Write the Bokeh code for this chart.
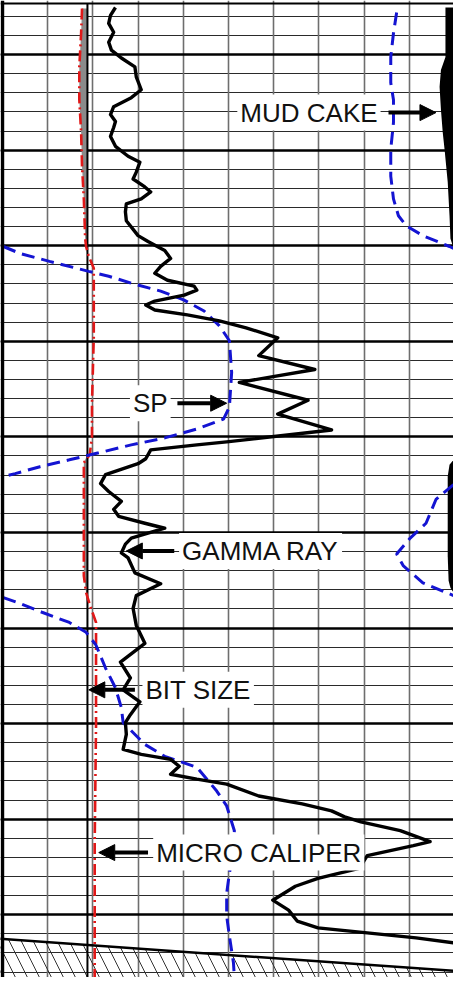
from bokeh.plotting import figure
from bokeh.models import Range1d, Label, Arrow, NormalHead, Span, Grid, FixedTicker
from bokeh.embed import file_html
from bokeh.resources import INLINE
import numpy as np

# ---------------- data (track position in chart divisions 0-10, depth in ft) ----------------
# Gamma ray curve
gr_pos = [2.50, 2.39, 2.35, 2.46, 2.35, 2.41, 2.63, 2.93, 2.96, 3.07,
          2.85, 2.46, 2.39, 2.50, 2.46, 2.39, 2.50, 2.78, 3.04, 2.96,
          2.89, 3.15, 3.28, 3.07, 2.74, 2.72, 2.74, 3.00, 3.22, 3.59,
          3.72, 3.50, 3.37, 3.65, 4.24, 4.30, 4.02, 3.37, 3.17, 3.37,
          4.09, 4.80, 5.39, 6.09, 5.67, 6.91, 5.24, 6.76, 6.09, 7.28,
          4.96, 4.30, 3.28, 3.17, 3.00, 2.28, 2.17, 2.35, 2.63, 2.46,
          2.57, 3.15, 3.59, 2.85, 2.72, 2.63, 2.78, 2.93, 3.50, 2.96,
          2.89, 2.96, 3.15, 2.61, 2.83, 2.67, 3.04, 2.83, 2.72, 2.74,
          2.67, 3.07, 3.72, 3.91, 3.72, 4.30, 4.96, 5.67, 6.63, 7.28,
          7.57, 7.93, 8.80, 9.46, 9.09, 8.07, 7.89, 6.98, 6.48, 5.98,
          6.33, 6.52, 6.98, 8.07, 9.15, 9.98]
gr_depth = [4995.07, 4995.90, 4996.73, 4997.66, 4998.70, 4999.53, 5000.36, 5001.29, 5002.33, 5003.68,
            5004.51, 5005.45, 5006.28, 5007.00, 5007.63, 5008.56, 5009.60, 5010.64, 5011.26, 5012.30,
            5013.02, 5013.85, 5014.37, 5015.10, 5015.62, 5016.45, 5017.38, 5018.94, 5019.56, 5020.50,
            5021.33, 5022.16, 5022.88, 5023.61, 5024.23, 5024.65, 5025.17, 5025.79, 5026.20, 5026.72,
            5027.24, 5027.86, 5028.59, 5029.63, 5031.50, 5032.95, 5034.30, 5036.17, 5037.62, 5039.28,
            5040.53, 5040.84, 5041.36, 5042.29, 5042.81, 5043.95, 5044.89, 5045.72, 5046.75, 5047.58,
            5048.31, 5049.04, 5049.56, 5050.59, 5051.22, 5052.15, 5052.67, 5054.23, 5055.37, 5056.61,
            5057.96, 5059.73, 5061.60, 5063.57, 5065.23, 5066.47, 5067.72, 5069.07, 5069.90, 5071.14,
            5072.70, 5073.22, 5073.74, 5074.47, 5075.30, 5075.82, 5076.33, 5077.58, 5078.41, 5079.14,
            5079.76, 5080.28, 5081.21, 5082.35, 5082.77, 5083.81, 5085.16, 5086.19, 5087.02, 5088.48,
            5089.52, 5090.66, 5091.38, 5091.90, 5092.42, 5092.94]

# SP curve (wraps around the track: four pieces)
sp_pos = [
    [8.72, 8.65, 8.59, 8.59, 8.65, 8.65, 8.59, 8.59, 8.65, 8.76, 8.93, 9.30, 9.89, 9.98],
    [0.02, 0.39, 1.04, 1.91, 2.35, 2.85, 3.50, 4.02, 4.46, 4.80, 5.02, 5.07, 5.02, 4.89,
     4.30, 3.59, 2.85, 2.13, 1.48, 0.83, 0.28, 0.02],
    [9.98, 9.59, 9.37, 9.02, 8.72, 8.87, 9.30, 9.98],
    [0.02, 0.39, 0.89, 1.48, 1.85, 2.07, 2.28, 2.50, 2.63, 2.67, 3.15, 3.59, 4.30, 4.74,
     4.96, 5.13, 5.11, 5.02, 4.96, 4.96, 5.02, 5.11, 5.13],
]
sp_depth = [
    [4995.59, 4997.77, 5000.26, 5002.95, 5004.72, 5007.11, 5009.91, 5012.71, 5015.10, 5016.86,
     5017.90, 5018.94, 5020.08, 5020.29],
    [5020.08, 5020.81, 5021.64, 5022.68, 5023.19, 5023.92, 5024.75, 5025.69, 5026.83, 5028.38,
     5029.94, 5033.26, 5036.89, 5038.14, 5039.18, 5040.11, 5040.84, 5041.67, 5042.40, 5043.12,
     5043.85, 5044.16],
    [5044.99, 5046.55, 5049.04, 5050.59, 5052.26, 5053.50, 5055.27, 5056.61],
    [5056.82, 5057.44, 5058.38, 5059.42, 5060.45, 5061.80, 5064.19, 5066.27, 5068.34, 5069.90,
     5072.18, 5073.43, 5074.57, 5077.06, 5078.62, 5081.21, 5083.29, 5085.68, 5087.75, 5090.14,
     5092.21, 5095.02, 5096.57],
]

# Micro caliper
cal_pos = [1.76, 1.74, 1.70, 1.70, 1.74, 1.76, 1.80, 1.83, 1.85, 1.91,
           2.02, 2.02, 2.02, 2.00, 1.98, 1.98, 1.93, 1.80, 1.80, 1.80,
           1.85, 1.96, 2.07, 2.07, 2.04, 2.04]
cal_depth = [4995.17, 4997.77, 5001.29, 5004.72, 5008.14, 5011.67, 5015.10, 5019.25, 5020.08, 5021.12,
             5022.36, 5026.20, 5029.63, 5033.05, 5036.58, 5040.01, 5041.88, 5042.71, 5044.16, 5054.54,
             5056.30, 5057.96, 5059.42, 5070.11, 5082.56, 5096.57]

# Bit size
bit_size = 1.88
bit_depth = [4994.65, 5096.57]

# Mud cake (right-hand black band), left edge
mud1_pos = [9.80, 9.80, 9.70, 9.67, 9.70, 9.74, 9.78, 9.85, 9.89, 9.91, 9.98]
mud1_depth = [4995.07, 5000.26, 5001.61, 5003.37, 5005.76, 5008.14, 5009.91, 5013.33, 5016.86, 5019.25, 5020.29]
mud2_pos = [9.98, 9.89, 9.85, 9.85, 9.87, 9.91, 9.98]
mud2_depth = [5042.40, 5042.91, 5044.16, 5052.46, 5055.06, 5055.78, 5056.30]

# Total depth line (hatched below)
td_pos = [-0.10, 10.05]
td_depth = [5092.50, 5095.90]

# Grid ticks
minor_depths = list(range(4996, 5098, 2))
major_depths = list(range(5000, 5091, 10))
track_divs = [1, 2, 3, 4, 5, 6, 7, 8, 9]
top_depth = 4994.65

# Annotations
label_text = ["MUD CAKE", "SP", "GAMMA RAY", "BIT SIZE", "MICRO CALIPER"]
label_x = [6.78, 3.27, 5.71, 4.33, 5.67]
label_y = [5006.07, 5036.48, 5051.94, 5066.47, 5083.50]
arrow_x0 = [8.54, 3.87, 3.80, 2.93, 3.22]
arrow_x1 = [9.59, 4.96, 2.74, 1.91, 2.13]

# ---------------- figure ----------------
p = figure(width=453, height=977,
           x_range=Range1d(-0.0435, 9.978), y_range=Range1d(5096.57, 4994.34),
           output_backend="svg", toolbar_location=None, min_border=0,
           x_axis_location=None, y_axis_location=None)
p.outline_line_color = None
p.xgrid.visible = False
p.ygrid.visible = False
p.background_fill_color = "white"

p.add_layout(Grid(dimension=1, ticker=FixedTicker(ticks=minor_depths),
                  grid_line_color="#2a2a2a", grid_line_width=1.2))
p.add_layout(Grid(dimension=0, ticker=FixedTicker(ticks=track_divs),
                  grid_line_color="#6e6e6e", grid_line_width=1.6))
p.add_layout(Grid(dimension=1, ticker=FixedTicker(ticks=major_depths),
                  grid_line_color="black", grid_line_width=2.6))

p.add_layout(Span(location=top_depth, dimension="width", line_color="black", line_width=2))
p.add_layout(Span(location=0, dimension="height", line_color="black", line_width=3.5))

# hatched zone below total depth
hx = td_pos + td_pos[::-1]
hy = td_depth + [5098.0, 5098.0]
p.patch(hx, hy, fill_color="white", fill_alpha=0.0, line_color=None, hatch_pattern="left_diagonal_line",
        hatch_color="#333333", hatch_scale=24, hatch_weight=1.0, hatch_alpha=1.0)
p.line(td_pos, td_depth, line_color="black", line_width=2.5)

# mud cake fill between caliper and bit size
cal_arr = np.array(cal_pos)
p.harea(x1=np.minimum(cal_arr, bit_size), x2=np.full(len(cal_pos), bit_size), y=cal_depth,
        fill_color="#8a8a8a")

# right-hand mud cake band
p.harea(x1=mud1_pos, x2=[10.2] * len(mud1_pos), y=mud1_depth, fill_color="black")
p.harea(x1=mud2_pos, x2=[10.2] * len(mud2_pos), y=mud2_depth, fill_color="black")

# bit size
p.line([bit_size, bit_size], bit_depth, line_color="black", line_width=2)

# micro caliper
p.line(cal_pos, cal_depth, line_color="#e01818", line_width=2.6, line_dash="11 4 2 4")

# SP
p.multi_line(sp_pos, sp_depth, line_color="#1414d2", line_width=3, line_dash="13 7")

# gamma ray
p.line(gr_pos, gr_depth, line_color="black", line_width=3.4, line_join="round")

for t, lx, ly in zip(label_text, label_x, label_y):
    p.add_layout(Label(x=lx, y=ly, text=t, text_align="center", text_baseline="middle",
                       text_font="Liberation Sans", text_font_size="26px", text_color="#111111",
                       background_fill_color="white", background_fill_alpha=1.0, padding=3))

for x0, x1, ly in zip(arrow_x0, arrow_x1, label_y):
    p.add_layout(Arrow(end=NormalHead(size=16, fill_color="black", line_color="black"),
                       x_start=x0, y_start=ly, x_end=x1, y_end=ly,
                       line_color="black", line_width=4))

open("out.html", "w").write(file_html(p, INLINE))
